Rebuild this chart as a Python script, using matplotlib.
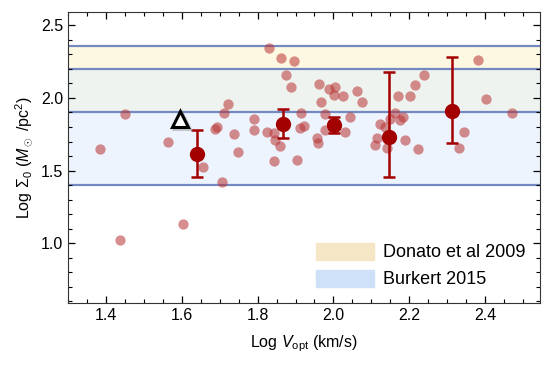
import numpy as np
import matplotlib
matplotlib.use('Agg')
import matplotlib.pyplot as plt
from matplotlib.patches import Patch
from matplotlib.ticker import MultipleLocator

plt.rcParams['font.family'] = ['Liberation Sans', 'DejaVu Sans']
plt.rcParams['mathtext.fontset'] = 'custom'
plt.rcParams['mathtext.rm'] = 'Liberation Sans'
plt.rcParams['mathtext.it'] = 'Liberation Sans:italic'

# individual galaxies
gal_x = [1.385, 1.45, 1.438, 1.604, 1.564, 1.656, 1.707, 1.688, 1.694, 1.711,
         1.722, 1.739, 1.748, 1.790, 1.790, 1.824, 1.843, 1.846, 1.859, 1.843,
         1.903, 1.83, 1.862, 1.896, 1.876, 1.887, 1.915, 1.922, 1.913, 1.966,
         1.979, 1.977, 1.957, 1.960, 1.962, 1.989, 2.005, 2.001, 2.025, 2.062,
         2.076, 2.030, 2.045, 2.169, 2.201, 2.216, 2.239, 2.163, 2.183, 2.176,
         2.15, 2.122, 2.137, 2.115, 2.11, 2.141, 2.189, 2.222, 2.33, 2.345,
         2.38, 2.403, 2.47]
gal_y = [1.65, 1.886, 1.02, 1.13, 1.70, 1.523, 1.42, 1.783, 1.799, 1.898,
         1.96, 1.753, 1.626, 1.857, 1.781, 1.764, 1.757, 1.712, 1.672, 1.564,
         1.576, 2.34, 2.275, 2.254, 2.16, 2.075, 1.898, 1.806, 1.794, 1.971,
         1.886, 1.781, 1.723, 1.691, 2.098, 2.063, 2.075, 2.022, 2.01, 2.045,
         1.971, 1.764, 1.868, 2.012, 2.012, 2.086, 2.157, 1.895, 1.872, 1.85,
         1.857, 1.822, 1.803, 1.723, 1.679, 1.656, 1.707, 1.65, 1.656, 1.764,
         2.263, 1.992, 1.898]

# binned means with asymmetric errors
bin_x = [1.641, 1.868, 2.001, 2.146, 2.312]
bin_y = [1.615, 1.822, 1.817, 1.732, 1.908]
err_lo = [0.16, 0.10, 0.06, 0.275, 0.22]
err_hi = [0.165, 0.10, 0.05, 0.445, 0.37]

tri_x, tri_y = 1.596, 1.852

donato = (1.9, 2.36)
burkert = (1.4, 2.2)

fig = plt.figure(figsize=(5.5, 3.68), dpi=100)
ax = fig.add_axes([0.1236, 0.177, 0.8584, 0.790])

ax.axhspan(burkert[1], donato[1], color='#fdf8e2', lw=0, zorder=0)
ax.axhspan(donato[0], burkert[1], color='#eef3ef', lw=0, zorder=0)
ax.axhspan(burkert[0], donato[0], color='#edf4fd', lw=0, zorder=0)
for yv in [donato[1], burkert[1], donato[0], burkert[0]]:
    ax.axhline(yv, color='#7489c2', lw=1.6, zorder=1)

ax.scatter(gal_x, gal_y, s=55, color='#b83232', alpha=0.55, lw=0, zorder=2)

ax.errorbar(bin_x, bin_y, yerr=[err_lo, err_hi], fmt='o', color='#a30000',
            ms=10, elinewidth=1.8, capsize=4, capthick=1.8, zorder=3)

ax.plot(tri_x + 0.004, tri_y - 0.012, marker='^', ms=11, mfc='none',
        mec='#999999', mew=2.2, alpha=0.5, zorder=3)
ax.plot(tri_x, tri_y, marker='^', ms=11, mfc='white', mec='black', mew=2.2, zorder=4)

ax.set_xlim(1.3, 2.545)
ax.set_ylim(0.59, 2.59)
ax.xaxis.set_minor_locator(MultipleLocator(0.05))
ax.yaxis.set_minor_locator(MultipleLocator(0.1))
ax.tick_params(which='both', direction='in', top=True, right=True, labelsize=11.5)
ax.tick_params(which='major', length=5, width=0.9)
ax.tick_params(which='minor', length=3, width=0.8)
ax.set_xticks(np.arange(1.4, 2.41, 0.2))
ax.set_xticklabels(['1.4', '1.6', '1.8', '2.0', '2.2', '2.4'])
ax.set_yticks([1.0, 1.5, 2.0, 2.5])
ax.set_yticklabels(['1.0', '1.5', '2.0', '2.5'])
for s in ax.spines.values():
    s.set_color('#333333')

ax.set_xlabel(r'Log $V_{\rm opt}$ (km/s)', fontsize=11.5, labelpad=8)
ax.set_ylabel(r'Log $\Sigma_0$ ($M_\odot$ /pc$^2$)', fontsize=11.5, labelpad=4)

handles = [Patch(color='#f5e7c5'), Patch(color='#cfe1f8')]
ax.legend(handles, ['Donato et al 2009', 'Burkert 2015'], loc='lower right',
          frameon=False, fontsize=13, handlelength=3.2, handleheight=1.1,
          handletextpad=0.5, labelspacing=0.45, borderaxespad=0.4)

fig.savefig('out.png', dpi=100)
